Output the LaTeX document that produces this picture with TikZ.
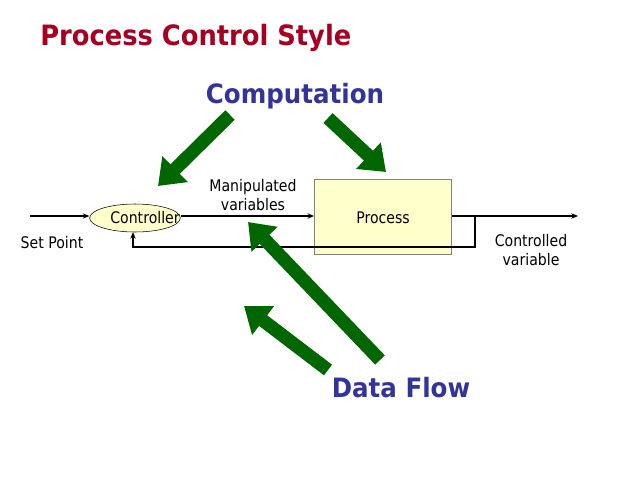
\documentclass[tikz,border=0pt]{standalone}
\usepackage{fontspec}
\setmainfont{DejaVu Sans}
\usetikzlibrary{arrows.meta,shapes.geometric}
\definecolor{titlered}{HTML}{A50021}
\definecolor{navy}{HTML}{333399}
\definecolor{dgreen}{HTML}{006600}
\definecolor{pale}{HTML}{FFFFCC}
\begin{document}
\begin{tikzpicture}[x=0.75pt,y=-0.75pt,
  lbl/.style={font=\fontsize{12}{14}\selectfont\addfontfeatures{FakeStretch=0.88},align=center,inner sep=0},
  flow/.style={draw=black,line width=0.9pt,-{Stealth[length=5pt,width=4pt]}},
  fat/.style={draw=dgreen,line width=10pt,-{Triangle[length=18pt,width=26pt]}}]
\useasboundingbox (0,0) rectangle (638,478);
\node[font=\bfseries\fontsize{21}{24}\selectfont\addfontfeatures{FakeStretch=0.92},text=titlered,anchor=west,inner sep=0] (title) at (40,38) {Process Control Style};
\node[font=\bfseries\fontsize{20}{24}\selectfont\addfontfeatures{FakeStretch=0.92},text=navy,inner sep=0] (comp) at (295,96) {Computation};
\node[font=\bfseries\fontsize{20}{24}\selectfont\addfontfeatures{FakeStretch=0.92},text=navy,inner sep=0] (df) at (401,388) {Data Flow};
\node[ellipse,draw=black,fill=pale,minimum width=68pt,minimum height=21pt,inner sep=0] (ctrl) at (135,218) {};
\node[draw=gray,fill=pale,minimum width=103pt,minimum height=56pt,inner sep=0] (proc) at (383,217) {};
\node[lbl] (ctrlt) at (145,218) {Controller};
\node[lbl] (proct) at (383,218) {Process};
\node[lbl] (mv) at (253,195) {Manipulated\\variables};
\node[lbl] (sp) at (52,243) {Set Point};
\node[lbl] (cv) at (531,250) {Controlled\\variable};
\coordinate (in) at (30,216);
\coordinate (out) at (578,216);
\coordinate (br) at (475,216);
\coordinate (fb1) at (475,247);
\coordinate (fb2) at (133,247);
\coordinate (fb3) at (133,232);
\draw[flow] (in) -- (ctrl.west|-in);
\draw[flow] (ctrl.east|-in) -- (proc.west|-in);
\draw[flow] (proc.east|-in) -- (out);
\draw[flow] (br) -- (fb1) -- (fb2) -- (fb3);
\coordinate (a1s) at (230,115); \coordinate (a1e) at (158,186);
\coordinate (a2s) at (328,118); \coordinate (a2e) at (386,172);
\coordinate (a3s) at (380,360); \coordinate (a3e) at (248,222);
\coordinate (a4s) at (328,370); \coordinate (a4e) at (244,306);
\draw[fat] (a1s) -- (a1e);
\draw[fat] (a2s) -- (a2e);
\draw[fat] (a3s) -- (a3e);
\draw[fat] (a4s) -- (a4e);
\end{tikzpicture}
\end{document}
